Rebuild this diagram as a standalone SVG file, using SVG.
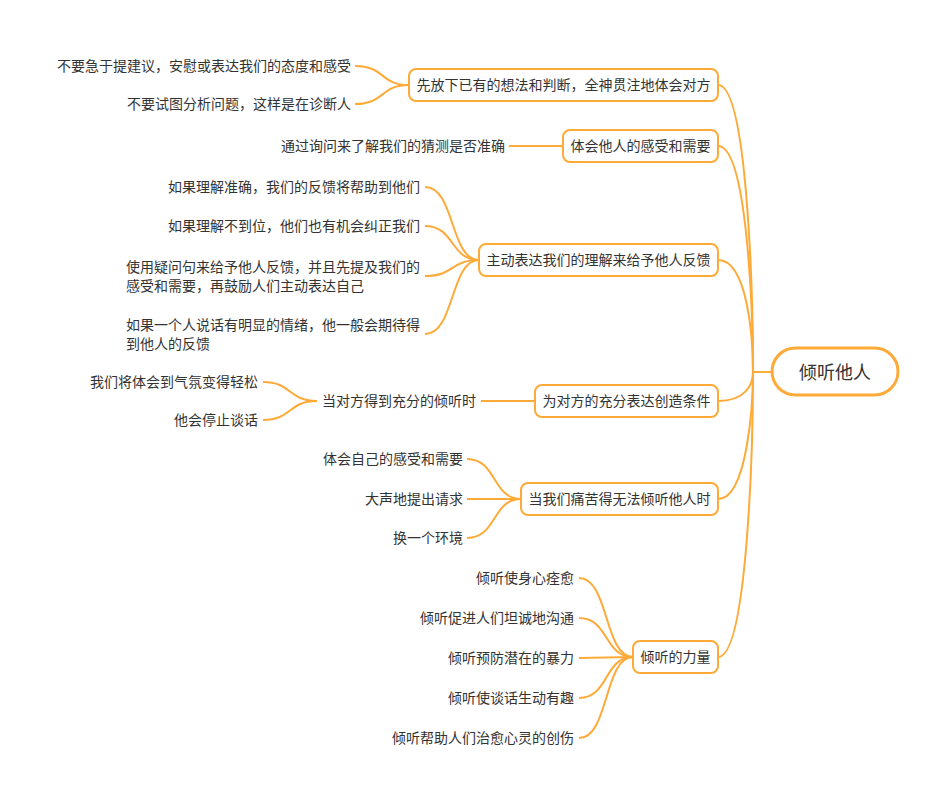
<svg xmlns="http://www.w3.org/2000/svg" width="948" height="803" viewBox="0 0 948 803">
<style>
text{font-family:"Noto Sans CJK SC","Liberation Sans",sans-serif;font-size:14px;fill:#333333}
.leaf{text-anchor:end}
.n rect{fill:#ffffff;stroke:#FEAA38;stroke-width:2}
.n text{text-anchor:middle}
#connectors path{fill:none;stroke:#FEAA38;stroke-width:2}
</style>
<rect width="948" height="803" fill="#ffffff"/>
<g id="connectors">
<path d="M718 85 C748 85 753 300 753 372 L771 372"/>
<path d="M718 146 C748 146 753 320 753 372 L771 372"/>
<path d="M718 260 C748 260 753 340 753 372 L771 372"/>
<path d="M718 401 C745 401 753 385 753 372 L771 372"/>
<path d="M718 499 C748 499 753 400 753 372 L771 372"/>
<path d="M718 657 C748 657 753 440 753 372 L771 372"/>
<path d="M355 66 C385 66 380 85 409 85"/>
<path d="M355 104 C385 104 380 85 409 85"/>
<path d="M509 146 L563 146"/>
<path d="M425 187 C455 187 450 260 479 260"/>
<path d="M425 226 C455 226 450 260 479 260"/>
<path d="M425 276 C455 276 450 260 479 260"/>
<path d="M425 334 C455 334 450 260 479 260"/>
<path d="M481 401 L535 401"/>
<path d="M263 382 C292 382 288 401 317 401"/>
<path d="M263 420 C292 420 288 401 317 401"/>
<path d="M467 459 C497 459 492 499 521 499"/>
<path d="M467 499 L521 499"/>
<path d="M467 538 C497 538 492 499 521 499"/>
<path d="M579 578 C609 578 604 657 633 657"/>
<path d="M579 618 C609 618 604 657 633 657"/>
<path d="M579 658 L633 657"/>
<path d="M579 698 C609 698 604 657 633 657"/>
<path d="M579 738 C609 738 604 657 633 657"/>
</g>
<g id="root" class="n">
<rect x="772" y="348" width="126" height="47" rx="23.5" style="stroke-width:3"/>
<text x="835" y="378.5" style="font-size:18px">倾听他人</text>
</g>
<g id="n1" class="n">
<rect x="409" y="69" width="309" height="32" rx="7"/>
<text x="563.5" y="90">先放下已有的想法和判断，全神贯注地体会对方</text>
</g>
<g id="n2" class="n">
<rect x="563" y="130" width="155" height="32" rx="7"/>
<text x="640.5" y="151">体会他人的感受和需要</text>
</g>
<g id="n3" class="n">
<rect x="479" y="244" width="239" height="32" rx="7"/>
<text x="598.5" y="265">主动表达我们的理解来给予他人反馈</text>
</g>
<g id="n4" class="n">
<rect x="535" y="385" width="183" height="32" rx="7"/>
<text x="626.5" y="406">为对方的充分表达创造条件</text>
</g>
<g id="n5" class="n">
<rect x="521" y="483" width="197" height="32" rx="7"/>
<text x="619.5" y="504">当我们痛苦得无法倾听他人时</text>
</g>
<g id="n6" class="n">
<rect x="633" y="641" width="85" height="32" rx="7"/>
<text x="675.5" y="662">倾听的力量</text>
</g>
<g id="l1a"><text class="leaf" x="351" y="71">不要急于提建议，安慰或表达我们的态度和感受</text></g>
<g id="l1b"><text class="leaf" x="351" y="109">不要试图分析问题，这样是在诊断人</text></g>
<g id="l2a"><text class="leaf" x="505" y="151">通过询问来了解我们的猜测是否准确</text></g>
<g id="l3a"><text class="leaf" x="420" y="192">如果理解准确，我们的反馈将帮助到他们</text></g>
<g id="l3b"><text class="leaf" x="420" y="231">如果理解不到位，他们也有机会纠正我们</text></g>
<g id="l3c"><text x="126" y="272">使用疑问句来给予他人反馈，并且先提及我们的</text><text x="126" y="291">感受和需要，再鼓励人们主动表达自己</text></g>
<g id="l3d"><text x="126" y="330">如果一个人说话有明显的情绪，他一般会期待得</text><text x="126" y="349">到他人的反馈</text></g>
<g id="l4a"><text x="322" y="406">当对方得到充分的倾听时</text></g>
<g id="l4b"><text class="leaf" x="258" y="387">我们将体会到气氛变得轻松</text></g>
<g id="l4c"><text class="leaf" x="258" y="425">他会停止谈话</text></g>
<g id="l5a"><text class="leaf" x="463" y="464">体会自己的感受和需要</text></g>
<g id="l5b"><text class="leaf" x="463" y="504">大声地提出请求</text></g>
<g id="l5c"><text class="leaf" x="463" y="543">换一个环境</text></g>
<g id="l6a"><text class="leaf" x="574" y="583">倾听使身心痊愈</text></g>
<g id="l6b"><text class="leaf" x="574" y="623">倾听促进人们坦诚地沟通</text></g>
<g id="l6c"><text class="leaf" x="574" y="663">倾听预防潜在的暴力</text></g>
<g id="l6d"><text class="leaf" x="574" y="703">倾听使谈话生动有趣</text></g>
<g id="l6e"><text class="leaf" x="574" y="743">倾听帮助人们治愈心灵的创伤</text></g>
</svg>
